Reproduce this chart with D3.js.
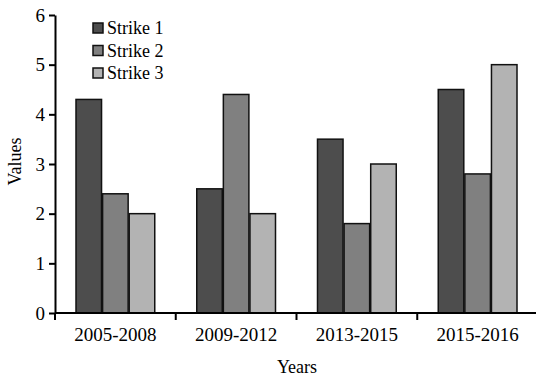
<!DOCTYPE html>
<html>
<head>
<meta charset="utf-8">
<script src="https://cdn.jsdelivr.net/npm/d3@7"></script>
<style>
  body { margin: 0; background: #fff; }
</style>
</head>
<body>
<svg id="chart" width="536" height="377"></svg>
<script>
var categories = ['2005-2008', '2009-2012', '2013-2015', '2015-2016'];
var seriesNames = ['Strike 1', 'Strike 2', 'Strike 3'];
var strike1 = [4.3, 2.5, 3.5, 4.5];
var strike2 = [2.4, 4.4, 1.8, 2.8];
var strike3 = [2.0, 2.0, 3.0, 5.0];
var yTicks = [0, 1, 2, 3, 4, 5, 6];
var colors = ['#4d4d4d', '#808080', '#b3b3b3'];

var series = [strike1, strike2, strike3];
var margin = { left: 55, right: -2, top: 15, bottom: 64 };
var width = 536, height = 377;
var fontFamily = '"Liberation Serif", "DejaVu Serif", "Times New Roman", serif';

var svg = d3.select('#chart').style('font-family', fontFamily);

var x = d3.scaleBand().domain(categories)
  .range([margin.left, width - margin.right]);
var groupPad = 21;
var inner = d3.scaleBand().domain(d3.range(seriesNames.length))
  .range([groupPad, x.bandwidth() - groupPad]).paddingInner(0.04);
var y = d3.scaleLinear().domain([0, 6]).range([height - margin.bottom, margin.top]);

// bars
var g = svg.append('g');
categories.forEach(function(cat, ci) {
  series.forEach(function(vals, si) {
    g.append('rect')
      .attr('x', x(cat) + inner(si))
      .attr('y', y(vals[ci]))
      .attr('width', inner.bandwidth())
      .attr('height', y(0) - y(vals[ci]))
      .attr('fill', colors[si])
      .attr('stroke', '#111')
      .attr('stroke-width', 1.5);
  });
});

// y axis
var yAxis = svg.append('g')
  .attr('transform', 'translate(' + margin.left + ',0)')
  .call(d3.axisLeft(y).tickValues(yTicks).tickFormat(d3.format('d')).tickSize(6).tickSizeOuter(0));
yAxis.attr('font-family', null);
yAxis.select('.domain').attr('stroke', '#000').attr('stroke-width', 2);
yAxis.selectAll('.tick line').attr('stroke-width', 2);
yAxis.selectAll('.tick text').attr('font-size', 19).attr('x', -10).attr('dy', '0.33em')
  .style('font-family', fontFamily);

// x axis with ticks at category boundaries
var xAxis = svg.append('g')
  .attr('transform', 'translate(0,' + y(0) + ')');
xAxis.append('line')
  .attr('x1', margin.left).attr('x2', width)
  .attr('stroke', '#000').attr('stroke-width', 2);
categories.forEach(function(cat) {
  xAxis.append('line')
    .attr('x1', x(cat)).attr('x2', x(cat))
    .attr('y1', 0).attr('y2', 7)
    .attr('stroke', '#000').attr('stroke-width', 2);
  xAxis.append('text')
    .attr('x', x(cat) + x.bandwidth() / 2)
    .attr('y', 28)
    .attr('text-anchor', 'middle')
    .attr('font-size', 19)
    .text(cat);
});

// axis titles
svg.append('text')
  .attr('x', 297).attr('y', 373)
  .attr('text-anchor', 'middle')
  .attr('font-size', 18)
  .text('Years');
svg.append('text')
  .attr('transform', 'translate(21,' + y(3.05) + ') rotate(-90)')
  .attr('text-anchor', 'middle')
  .attr('font-size', 18)
  .text('Values');

// legend
var legend = svg.append('g').attr('transform', 'translate(93,23)');
seriesNames.forEach(function(name, i) {
  var row = legend.append('g').attr('transform', 'translate(0,' + i * 22.5 + ')');
  row.append('rect')
    .attr('width', 10).attr('height', 10)
    .attr('fill', colors[i]).attr('stroke', '#111').attr('stroke-width', 1.5);
  row.append('text')
    .attr('x', 14).attr('y', 11)
    .attr('font-size', 18)
    .text(name);
});
</script>
</body>
</html>
